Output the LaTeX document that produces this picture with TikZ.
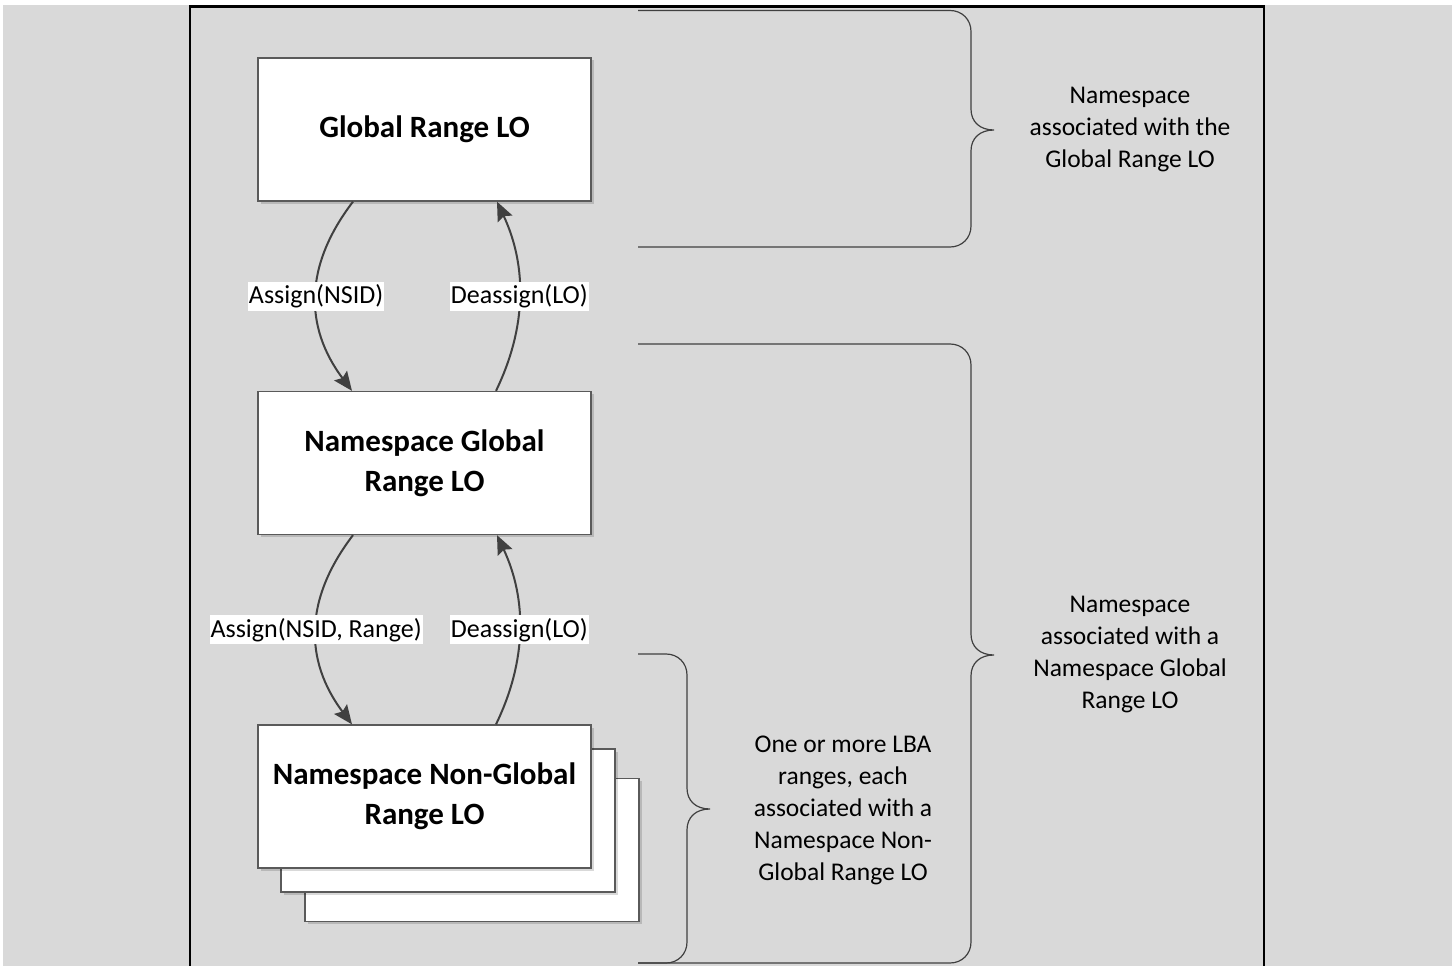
\documentclass[tikz,border=0pt]{standalone}
\usepackage{fontspec}
\setmainfont{Carlito}
\usetikzlibrary{arrows.meta,shadows,calc}
\definecolor{bg}{HTML}{D9D9D9}
\definecolor{edgec}{HTML}{404040}
\definecolor{boxline}{HTML}{5A5A5A}
\newcommand{\mybrace}[5]{%
  \draw[bracel] (#1,#3) -- (#2-21,#3)
    .. controls (#2-9,#3) and (#2,#3+9) .. (#2,#3+21)
    -- (#2,#4-21)
    .. controls (#2,#4-8) and (#2+9,#4) .. (#2+23,#4)
    .. controls (#2+9,#4) and (#2,#4+8) .. (#2,#4+21)
    -- (#2,#5-21)
    .. controls (#2,#5-9) and (#2-9,#5) .. (#2-21,#5)
    -- (#1,#5);}
\begin{document}
\begin{tikzpicture}[x=1pt,y=-1pt,
  lo/.style={draw=boxline, line width=1.3pt, fill=white,
    minimum width=333pt, minimum height=143pt, inner sep=0pt, align=center,
    font=\fontsize{31}{40}\selectfont\bfseries,
    drop shadow={opacity=0.15, shadow xshift=2.5pt, shadow yshift=-2.5pt, fill=black}},
  backbox/.style={draw=boxline, line width=1.3pt, fill=white,
    minimum width=334pt, minimum height=143pt, inner sep=0pt,
    drop shadow={opacity=0.15, shadow xshift=2.5pt, shadow yshift=-2.5pt, fill=black}},
  conn/.style={draw=edgec, line width=2pt, -{Stealth[length=19pt,width=16pt,inset=3pt]}},
  lbl/.style={fill=white, inner xsep=1pt, inner ysep=3pt, font=\fontsize{26}{32}\selectfont},
  note/.style={align=center, font=\fontsize{25.5}{32}\selectfont},
  bracel/.style={draw=edgec, line width=1.2pt}]
\useasboundingbox (0,0) rectangle (1452,966);
\fill[white] (0,0) rectangle (1452,966);
\fill[bg] (3,5) rectangle (1452,966);
\draw[black, line width=2.2pt] (190,967) -- (190,6.5) -- (1264,6.5) -- (1264,967);

% boxes
\node[lo] (b1) at (424.5,129.5) {Global Range LO};
\node[lo] (b2) at (424.5,463) {Namespace Global\\Range LO};
\node[backbox] (b3c) at (472,850) {};
\node[backbox] (b3b) at (448,820.5) {};
\node[lo] (b3) at (424.5,796.5) {Namespace Non-Global\\Range LO};

% connectors
\draw[conn] ($(b1.south)+(-71.5,0)$) .. controls +(-49,64) and +(-48,-64) .. ($(b2.north)+(-72.5,0)$)
  node[midway, lbl] (l1) {Assign(NSID)};
\draw[conn] ($(b2.north)+(71.5,0)$) .. controls +(31,-64) and +(30,64) .. ($(b1.south)+(72.5,0)$)
  node[midway, lbl] (l2) {Deassign(LO)};
\draw[conn] ($(b2.south)+(-71.5,0)$) .. controls +(-49,64) and +(-48,-64) .. ($(b3.north)+(-72.5,0)$)
  node[midway, lbl] (l3) {Assign(NSID, Range)};
\draw[conn] ($(b3.north)+(71.5,0)$) .. controls +(31,-64) and +(30,64) .. ($(b2.south)+(72.5,0)$)
  node[midway, lbl] (l4) {Deassign(LO)};

% braces
\mybrace{638}{971}{10.5}{130}{247}
\mybrace{638}{971}{344}{655}{963}
\mybrace{638}{687}{654}{809}{963}

% notes
\node[note] (n1) at (1130,130) {Namespace\\associated with the\\Global Range LO};
\node[note] (n2) at (1130,655) {Namespace\\associated with a\\Namespace Global\\Range LO};
\node[note] (n3) at (843,810) {One or more LBA\\ranges, each\\associated with a\\Namespace Non-\\Global Range LO};
\end{tikzpicture}
\end{document}
